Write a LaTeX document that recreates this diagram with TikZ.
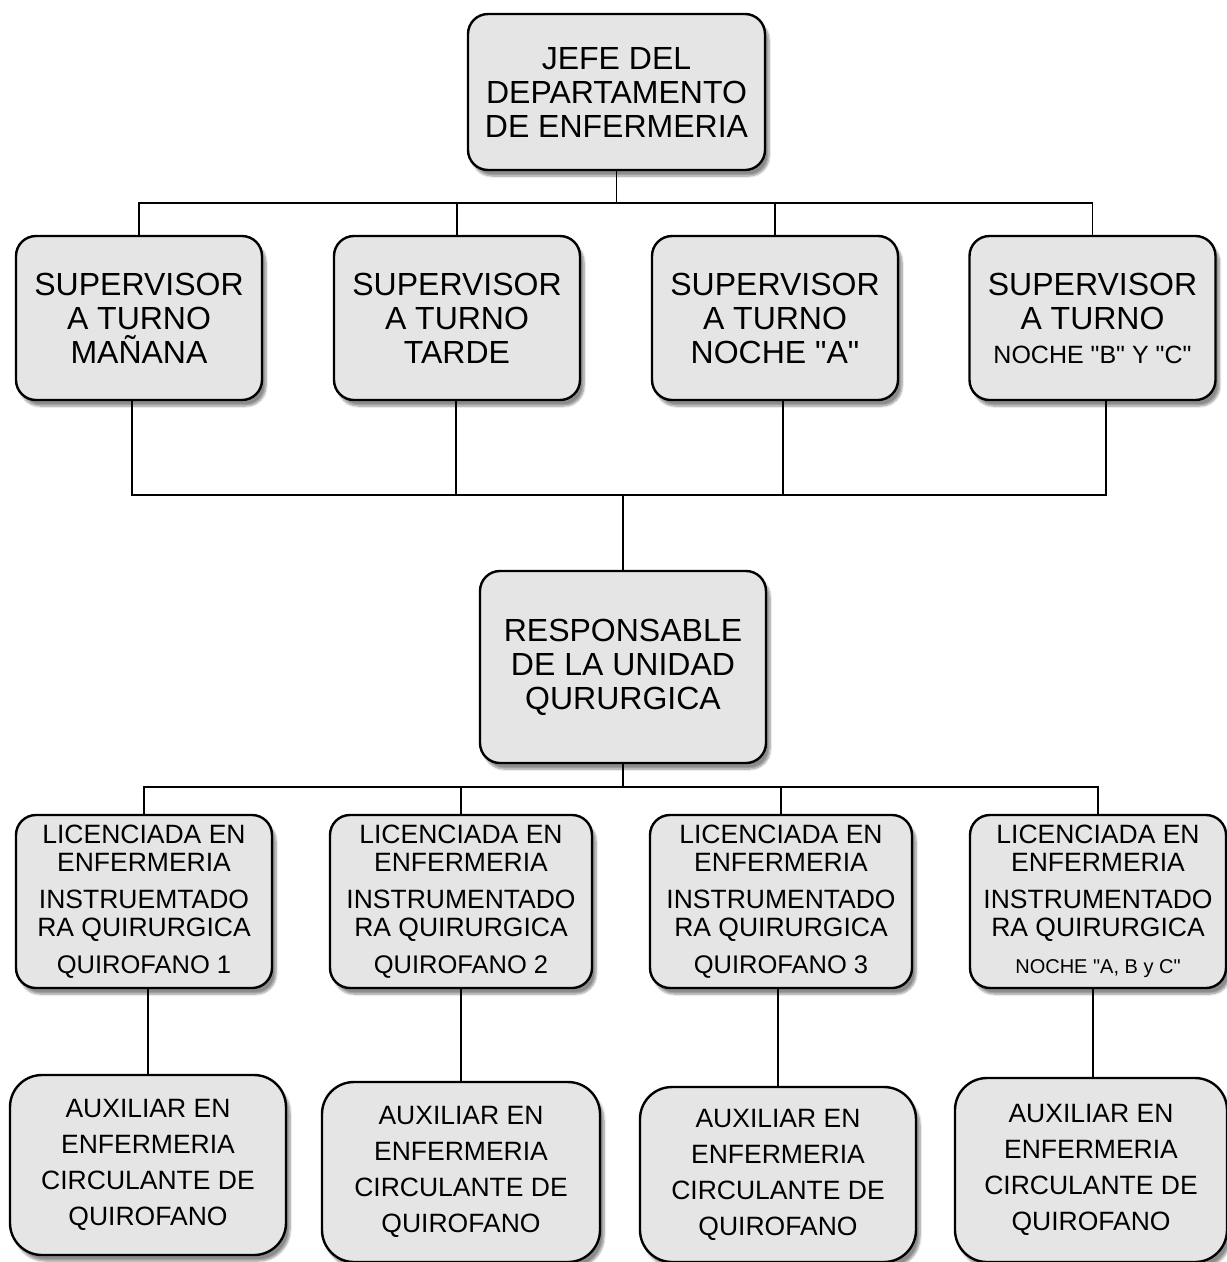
\documentclass[tikz,border=0pt]{standalone}
\usepackage{fontspec}
\setmainfont{Liberation Sans}[Ligatures=TeXOff]
\usetikzlibrary{shadows.blur}
\begin{document}
\begin{tikzpicture}[x=1pt,y=-1pt,
  box/.style={draw=black, line width=2.4pt, fill=black!10, rounded corners=20pt,
    align=center, inner sep=0pt,
    blur shadow={shadow xshift=4pt, shadow yshift=-6pt, shadow blur steps=8, shadow opacity=45}},
  big/.style={font=\fontsize{32}{34}\selectfont},
  mid/.style={font=\fontsize{26.5}{28}\selectfont},
  aux/.style={box, rounded corners=32pt, font=\fontsize{26.5}{36}\selectfont},
  conn/.style={line width=1.4pt}]
\useasboundingbox (0,0) rectangle (1227,1262);
% level 1
\node[box,big,minimum width=297pt,minimum height=156pt] (jefe) at (616.5,92) {JEFE DEL\\DEPARTAMENTO\\DE ENFERMERIA};
% level 2
\node[box,big,minimum width=246pt,minimum height=164pt] (s1) at (139,318) {SUPERVISOR\\A TURNO\\MAÑANA};
\node[box,big,minimum width=246pt,minimum height=164pt] (s2) at (457,318) {SUPERVISOR\\A TURNO\\TARDE};
\node[box,big,minimum width=246pt,minimum height=164pt] (s3) at (775,318) {SUPERVISOR\\A TURNO\\NOCHE "A"};
\node[box,big,minimum width=246pt,minimum height=164pt] (s4) at (1092.5,318) {SUPERVISOR\\A TURNO\\{\fontsize{25}{28}\selectfont NOCHE "B" Y "C"}};
% level 3
\node[box,big,minimum width=286pt,minimum height=192pt] (resp) at (623,667) {RESPONSABLE\\DE LA UNIDAD\\QURURGICA};
% level 4
\node[box,mid,minimum width=256pt,minimum height=173pt] (l1) at (144,901.5) {LICENCIADA EN\\ENFERMERIA\\[9pt]INSTRUEMTADO\\RA QUIRURGICA\\[9pt]{\fontsize{25.5}{27}\selectfont QUIROFANO 1}};
\node[box,mid,minimum width=262pt,minimum height=173pt] (l2) at (461,901.5) {LICENCIADA EN\\ENFERMERIA\\[9pt]INSTRUMENTADO\\RA QUIRURGICA\\[9pt]{\fontsize{25.5}{27}\selectfont QUIROFANO 2}};
\node[box,mid,minimum width=262pt,minimum height=173pt] (l3) at (781,901.5) {LICENCIADA EN\\ENFERMERIA\\[9pt]INSTRUMENTADO\\RA QUIRURGICA\\[9pt]{\fontsize{25.5}{27}\selectfont QUIROFANO 3}};
\node[box,mid,minimum width=256pt,minimum height=173pt] (l4) at (1098,901.5) {LICENCIADA EN\\ENFERMERIA\\[9pt]INSTRUMENTADO\\RA QUIRURGICA\\[9pt]{\fontsize{20}{24}\selectfont NOCHE "A, B y C"}};
% level 5
\node[aux,minimum width=276pt,minimum height=180pt] (a1) at (148,1165) {AUXILIAR EN\\ENFERMERIA\\CIRCULANTE DE\\QUIROFANO};
\node[aux,minimum width=278pt,minimum height=180pt] (a2) at (461,1172) {AUXILIAR EN\\ENFERMERIA\\CIRCULANTE DE\\QUIROFANO};
\node[aux,minimum width=276pt,minimum height=175pt] (a3) at (778,1174.5) {AUXILIAR EN\\ENFERMERIA\\CIRCULANTE DE\\QUIROFANO};
\node[aux,minimum width=272pt,minimum height=184pt] (a4) at (1091,1170) {AUXILIAR EN\\ENFERMERIA\\CIRCULANTE DE\\QUIROFANO};
% connectors
\coordinate (bus1) at (616.5,203);
\draw[conn] (jefe.south) -- (bus1);
\foreach \s in {s1,s2,s3,s4} \draw[conn] (bus1) -| (\s.north);
\coordinate (bus2) at (623,495);
\draw[conn] ([xshift=-7pt]s1.south) |- (bus2);
\draw[conn] ([xshift=-1pt]s2.south) |- (bus2);
\draw[conn] ([xshift=8pt]s3.south) |- (bus2);
\draw[conn] ([xshift=13.5pt]s4.south) |- (bus2);
\draw[conn] (bus2) -- (resp.north);
\coordinate (bus3) at (623,787);
\draw[conn] (resp.south) -- (bus3);
\foreach \l in {l1,l2,l3,l4} \draw[conn] (bus3) -| (\l.north);
\draw[conn] ([xshift=4pt]l1.south) -- ([xshift=0pt]a1.north);
\draw[conn] (l2.south) -- (a2.north);
\draw[conn] ([xshift=-3pt]l3.south) -- (a3.north);
\draw[conn] ([xshift=-5pt]l4.south) -- ([xshift=2pt]a4.north);
\end{tikzpicture}
\end{document}
